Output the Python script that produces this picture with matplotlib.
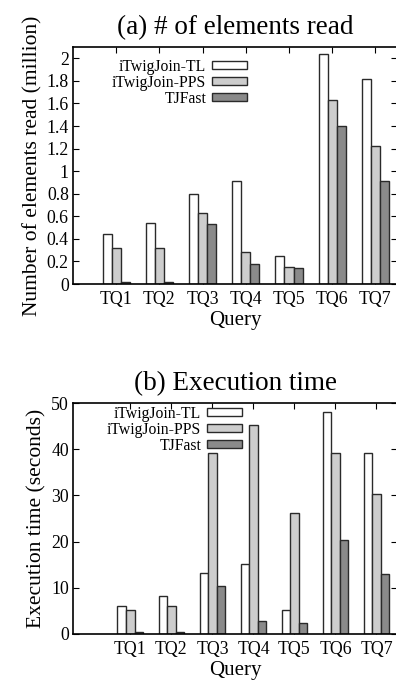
import matplotlib
matplotlib.use("Agg")
import matplotlib.pyplot as plt
import numpy as np
from matplotlib.ticker import FormatStrFormatter

plt.rcParams['font.family'] = ['Liberation Serif', 'DejaVu Serif']

queries = ["TQ1", "TQ2", "TQ3", "TQ4", "TQ5", "TQ6", "TQ7"]
series = ["iTwigJoin-TL", "iTwigJoin-PPS", "TJFast"]

elements_tl = [0.44, 0.54, 0.80, 0.91, 0.25, 2.04, 1.82]
elements_pps = [0.32, 0.32, 0.63, 0.28, 0.15, 1.63, 1.22]
elements_tjf = [0.02, 0.015, 0.53, 0.18, 0.14, 1.40, 0.91]

time_tl = [6.1, 8.2, 13.1, 15.1, 5.2, 48.1, 39.2]
time_pps = [5.2, 6.1, 39.2, 45.2, 26.2, 39.2, 30.2]
time_tjf = [0.4, 0.5, 10.4, 2.9, 2.4, 20.4, 12.9]

colors = ["#ffffff", "#cdcdcd", "#8a8a8a"]
edge = "#2a2a2a"

fig = plt.figure(figsize=(3.96, 6.8), dpi=100)

def panel(rect, data, ylim, yticks, fmt, xlim, title, ylabel, leg_anchor):
    ax = fig.add_axes(rect)
    x = np.arange(1, len(queries) + 1)
    w = 0.21
    for i, (vals, c) in enumerate(zip(data, colors)):
        ax.bar(x + (i - 1) * w, vals, w, color=c, edgecolor=edge,
               linewidth=1.0, label=series[i], zorder=2)
    ax.set_xlim(*xlim)
    ax.set_ylim(*ylim)
    ax.set_yticks(yticks)
    ax.yaxis.set_major_formatter(FormatStrFormatter(fmt))
    ax.set_xticks(x)
    ax.set_xticklabels(queries)
    ax.tick_params(axis='both', direction='in', top=True, right=True,
                   length=4, width=0.8, labelsize=12.8, pad=3)
    ax.tick_params(axis='x', pad=5)
    for s in ax.spines.values():
        s.set_linewidth(1.2)
        s.set_color('black')
    ax.set_title(title, fontsize=19.5, pad=9)
    ax.set_ylabel(ylabel, fontsize=15.5, labelpad=3)
    ax.set_xlabel("Query", fontsize=15, labelpad=2)
    leg = ax.legend(loc='upper right', bbox_to_anchor=leg_anchor,
                    bbox_transform=fig.transFigure, frameon=False,
                    markerfirst=False, fontsize=11.3, handlelength=2.2,
                    handleheight=0.42, handletextpad=0.4, labelspacing=0.0,
                    borderpad=0, borderaxespad=0)
    for t in leg.get_texts():
        t.set_ha('right')
    return ax

panel([73/396, 1 - 284/680, 324/396, (284 - 47)/680],
      [elements_tl, elements_pps, elements_tjf], (0, 2.1),
      [0, 0.2, 0.4, 0.6, 0.8, 1.0, 1.2, 1.4, 1.6, 1.8, 2.0], '%g',
      (0, 7.5), "(a) # of elements read",
      "Number of elements read (million)", (247/396, 1 - 59/680))

panel([73/396, 1 - 634/680, 324/396, (634 - 403)/680],
      [time_tl, time_pps, time_tjf], (0, 50),
      [0, 10, 20, 30, 40, 50], '%g',
      (-0.4, 7.5), "(b) Execution time",
      "Execution time (seconds)", (242/396, 1 - 406/680))

fig.savefig("out.png", dpi=100)
